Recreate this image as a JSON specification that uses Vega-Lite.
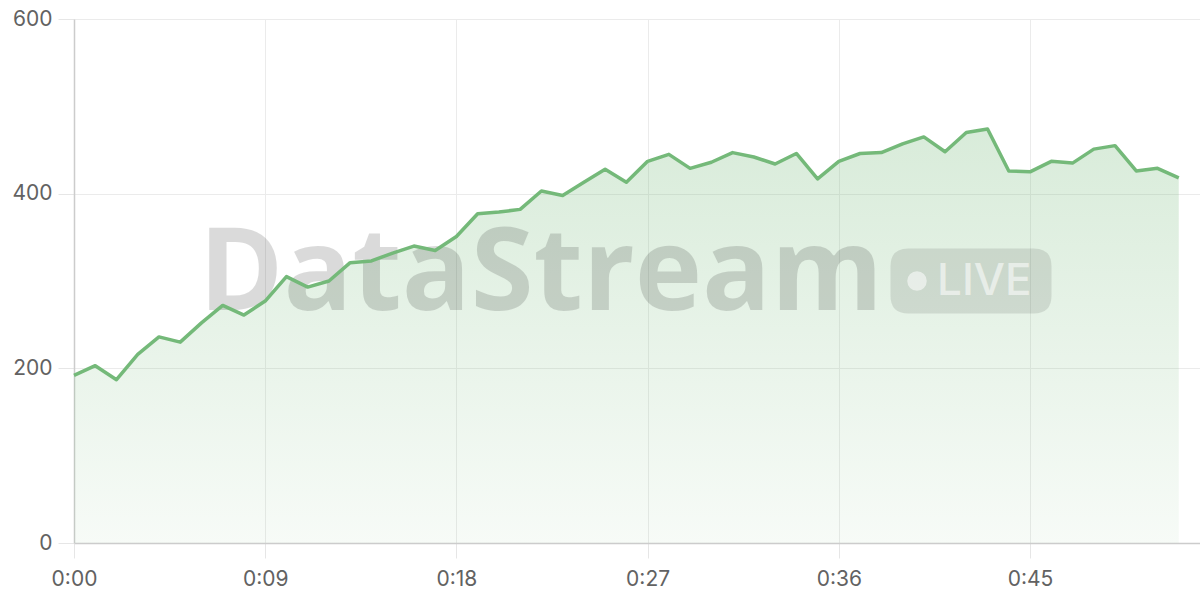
{
  "$schema": "https://vega.github.io/schema/vega-lite/v6.json",
  "description": "DataStream live line chart",
  "width": 1126,
  "height": 524,
  "autosize": {"type": "none"},
  "padding": {"left": 74, "top": 19, "right": 0, "bottom": 57},
  "background": "white",
  "config": {
    "view": {"stroke": null},
    "font": "Inter",
    "axis": {
      "labelFont": "Inter",
      "labelFontSize": 21,
      "labelColor": "#626262",
      "gridColor": "#ebebeb",
      "gridWidth": 1,
      "domainColor": "#cccccc",
      "domainWidth": 1.5,
      "tickColor": "#e6e6e6",
      "tickWidth": 1,
      "title": null
    }
  },
  "datasets": {
    "series": [
      {"sec": 0, "value": 192}, {"sec": 1, "value": 203}, {"sec": 2, "value": 187},
      {"sec": 3, "value": 216}, {"sec": 4, "value": 236}, {"sec": 5, "value": 230},
      {"sec": 6, "value": 252}, {"sec": 7, "value": 272}, {"sec": 8, "value": 261},
      {"sec": 9, "value": 277}, {"sec": 10, "value": 305}, {"sec": 11, "value": 293},
      {"sec": 12, "value": 300}, {"sec": 13, "value": 321}, {"sec": 14, "value": 323},
      {"sec": 15, "value": 332}, {"sec": 16, "value": 340}, {"sec": 17, "value": 335},
      {"sec": 18, "value": 351}, {"sec": 19, "value": 377}, {"sec": 20, "value": 379},
      {"sec": 21, "value": 382}, {"sec": 22, "value": 403}, {"sec": 23, "value": 398},
      {"sec": 24, "value": 413}, {"sec": 25, "value": 428}, {"sec": 26, "value": 413},
      {"sec": 27, "value": 437}, {"sec": 28, "value": 445}, {"sec": 29, "value": 429},
      {"sec": 30, "value": 436}, {"sec": 31, "value": 447}, {"sec": 32, "value": 442},
      {"sec": 33, "value": 434}, {"sec": 34, "value": 446}, {"sec": 35, "value": 417},
      {"sec": 36, "value": 437}, {"sec": 37, "value": 446}, {"sec": 38, "value": 447},
      {"sec": 39, "value": 457}, {"sec": 40, "value": 465}, {"sec": 41, "value": 448},
      {"sec": 42, "value": 470}, {"sec": 43, "value": 474}, {"sec": 44, "value": 426},
      {"sec": 45, "value": 425}, {"sec": 46, "value": 437}, {"sec": 47, "value": 435},
      {"sec": 48, "value": 451}, {"sec": 49, "value": 455}, {"sec": 50, "value": 426},
      {"sec": 51, "value": 429}, {"sec": 52, "value": 418}
    ],
    "watermark": [{"brand": "DataStream", "badge": "LIVE"}]
  },
  "encoding": {
    "x": {
      "field": "sec",
      "type": "quantitative",
      "scale": {"domain": [0, 53], "nice": false, "zero": false},
      "axis": {
        "values": [0, 9, 18, 27, 36, 45],
        "labelExpr": "floor(datum.value / 60) + ':' + (datum.value % 60 < 10 ? '0' : '') + (datum.value % 60)",
        "tickSize": 15,
        "labelPadding": 10,
        "labelFlush": false
      }
    },
    "y": {
      "field": "value",
      "type": "quantitative",
      "scale": {"domain": [0, 600], "nice": false},
      "axis": {
        "values": [0, 200, 400, 600],
        "tickSize": 16,
        "labelPadding": 6
      }
    }
  },
  "layer": [
    {
      "data": {"name": "series"},
      "mark": {
        "type": "area",
        "color": {
          "gradient": "linear",
          "x1": 0, "y1": 1, "x2": 0, "y2": 0,
          "stops": [
            {"offset": 0, "color": "rgba(116,185,121,0.06)"},
            {"offset": 1, "color": "rgba(116,185,121,0.28)"}
          ]
        }
      }
    },
    {
      "data": {"name": "watermark"},
      "mark": {
        "type": "text",
        "font": "Open Sans",
        "fontWeight": "bold",
        "fontSize": 114,
        "align": "center",
        "baseline": "alphabetic",
        "dx": -96,
        "dy": 29,
        "color": "#000000",
        "opacity": 0.14
      },
      "encoding": {"x": null, "y": null, "text": {"field": "brand"}}
    },
    {
      "data": {"name": "watermark"},
      "mark": {
        "type": "point",
        "shape": "M-0.78,-0.404 L0.78,-0.404 Q1,-0.404 1,-0.184 L1,0.184 Q1,0.404 0.78,0.404 L-0.78,0.404 Q-1,0.404 -1,0.184 L-1,-0.184 Q-1,-0.404 -0.78,-0.404 Z",
        "size": 25921,
        "filled": true,
        "color": "#000000",
        "opacity": 0.1,
        "strokeWidth": 0,
        "xOffset": 334
      },
      "encoding": {"x": null, "y": null}
    },
    {
      "data": {"name": "watermark"},
      "mark": {
        "type": "point",
        "shape": "circle",
        "size": 380,
        "filled": true,
        "color": "#ffffff",
        "opacity": 0.55,
        "strokeWidth": 0,
        "xOffset": 280
      },
      "encoding": {"x": null, "y": null}
    },
    {
      "data": {"name": "watermark"},
      "mark": {
        "type": "text",
        "font": "Inter",
        "fontWeight": 500,
        "fontSize": 44,
        "align": "left",
        "baseline": "alphabetic",
        "dx": 300,
        "dy": 14,
        "color": "#ffffff",
        "opacity": 0.55
      },
      "encoding": {"x": null, "y": null, "text": {"field": "badge"}}
    },
    {
      "data": {"name": "series"},
      "mark": {"type": "line", "color": "#74b979", "strokeWidth": 3.5, "strokeJoin": "round"}
    }
  ]
}
